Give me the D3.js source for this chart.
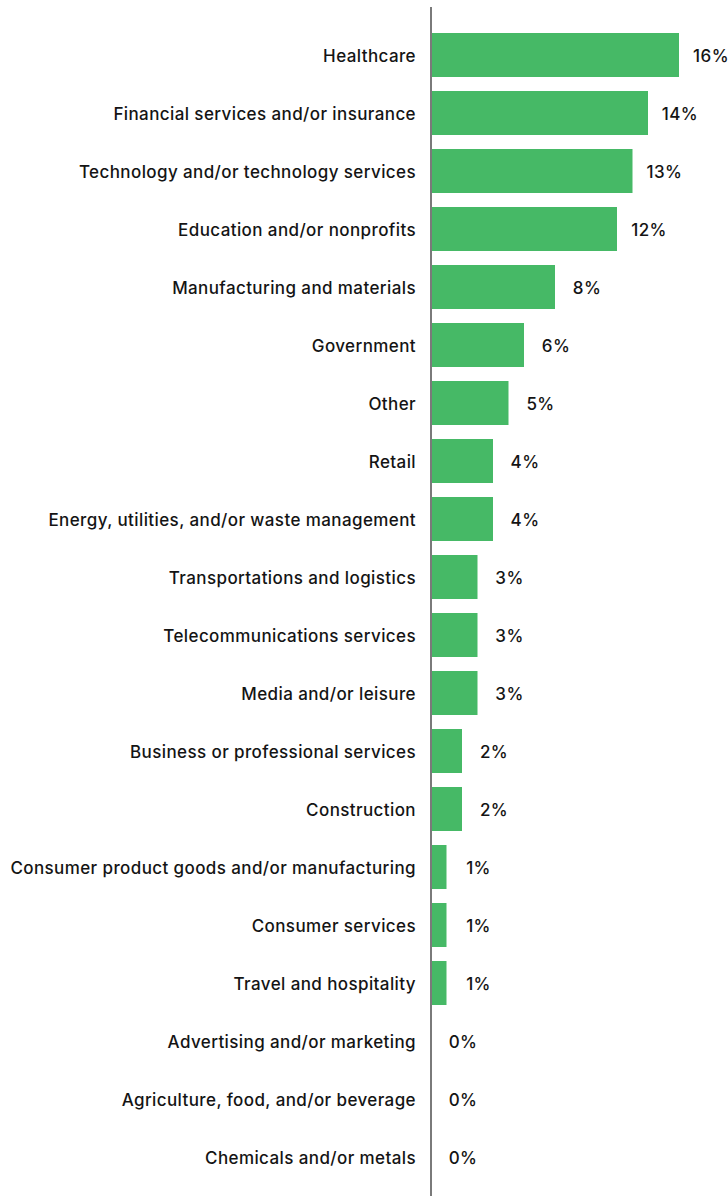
<!DOCTYPE html>
<html>
<head>
<meta charset="utf-8">
<script src="https://cdn.jsdelivr.net/npm/d3@7"></script>
<style>
  html, body { margin: 0; padding: 0; background: #ffffff; }
  svg { display: block; }
  text { font-family: Inter, "Noto Sans", sans-serif; font-weight: 500; fill: #141414; letter-spacing: 0.4px; }
</style>
</head>
<body>
<svg id="chart" width="728" height="1196"></svg>
<script>
// Industry shares, in percent
const industries = [
  "Healthcare",
  "Financial services and/or insurance",
  "Technology and/or technology services",
  "Education and/or nonprofits",
  "Manufacturing and materials",
  "Government",
  "Other",
  "Retail",
  "Energy, utilities, and/or waste management",
  "Transportations and logistics",
  "Telecommunications services",
  "Media and/or leisure",
  "Business or professional services",
  "Construction",
  "Consumer product goods and/or manufacturing",
  "Consumer services",
  "Travel and hospitality",
  "Advertising and/or marketing",
  "Agriculture, food, and/or beverage",
  "Chemicals and/or metals"
];
const shares = [16, 14, 13, 12, 8, 6, 5, 4, 4, 3, 3, 3, 2, 2, 1, 1, 1, 0, 0, 0];

const rows = industries.map((name, i) => ({ name, value: shares[i] }));

const svg = d3.select("#chart");
const width = 728, height = 1196;
const x0 = 431;

const x = d3.scaleLinear().domain([0, 16]).range([x0, 679]);
const pad = 14 / 58;
const y = d3.scaleBand()
  .domain(industries)
  .range([26, 1186])
  .paddingInner(pad)
  .paddingOuter(pad / 2);

// bars
svg.append("g")
  .selectAll("rect")
  .data(rows)
  .join("rect")
  .attr("x", x(0))
  .attr("y", d => y(d.name))
  .attr("width", d => x(d.value) - x(0))
  .attr("height", y.bandwidth())
  .attr("fill", "#46b966");

// category labels
const yAxis = d3.axisLeft(y).tickSize(0).tickPadding(15);
const ya = svg.append("g")
  .attr("transform", `translate(${x0},0)`)
  .call(yAxis);
ya.select(".domain").remove();
ya.selectAll("text")
  .attr("font-family", "Inter, 'Noto Sans', sans-serif")
  .attr("font-size", 17)
  .attr("font-weight", 500)
  .attr("fill", "#141414")
  .attr("dy", "0.43em");

// value labels
svg.append("g")
  .selectAll("text")
  .data(rows)
  .join("text")
  .attr("x", d => x(d.value) + 32)
  .attr("y", d => y(d.name) + y.bandwidth() / 2)
  .attr("dy", "0.43em")
  .attr("text-anchor", "middle")
  .attr("font-size", 17)
  .text(d => d.value + "%");

// vertical baseline
svg.append("line")
  .attr("x1", x0).attr("x2", x0)
  .attr("y1", 7).attr("y2", height)
  .attr("stroke", "#7a7a7a")
  .attr("stroke-width", 2);
</script>
</body>
</html>
